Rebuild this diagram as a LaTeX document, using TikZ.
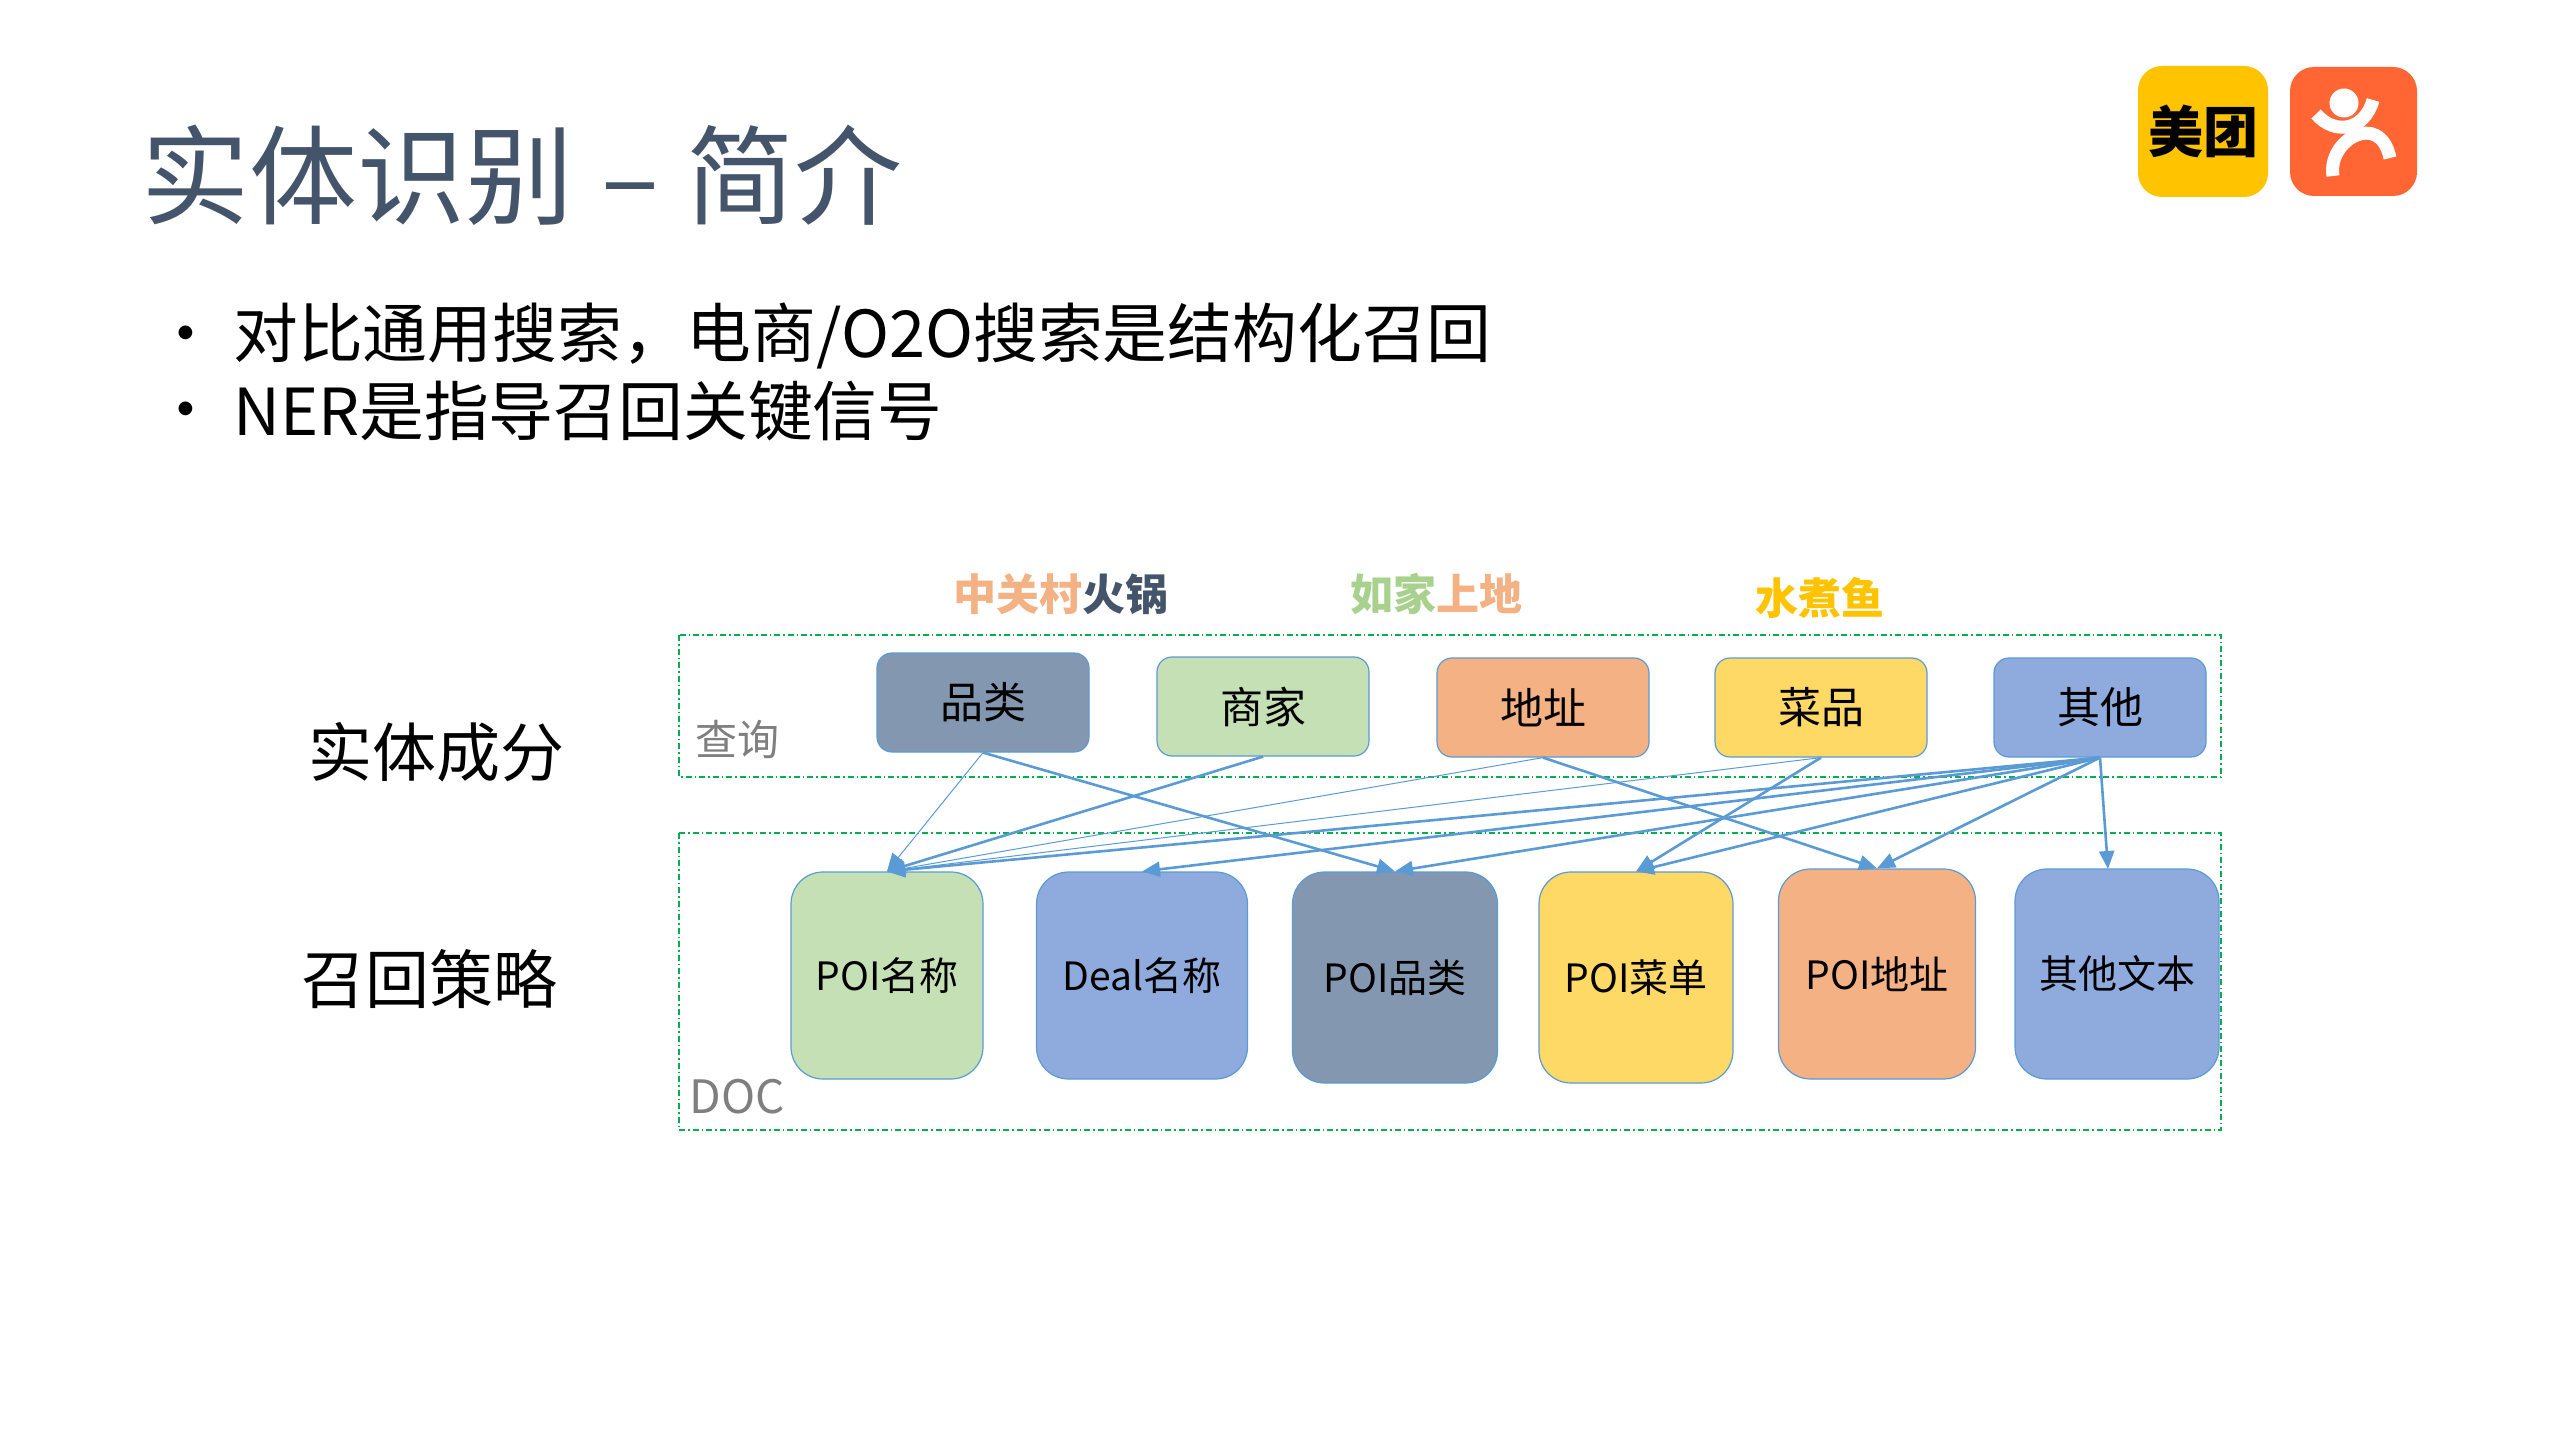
\documentclass[tikz,border=0pt]{standalone}
\usepackage{fontspec}
\setmainfont{Noto Sans CJK SC}
\usetikzlibrary{arrows.meta}
\definecolor{slate}{HTML}{44546A}
\definecolor{cgray}{HTML}{8497B0}
\definecolor{cgreen}{HTML}{C5E0B4}
\definecolor{kgreen}{HTML}{A9D18E}
\definecolor{corange}{HTML}{F4B183}
\definecolor{cyellow}{HTML}{FFD966}
\definecolor{cblue}{HTML}{8FAADC}
\definecolor{edgeblue}{HTML}{5B9BD5}
\definecolor{dashgreen}{HTML}{00B050}
\definecolor{labelgray}{HTML}{7F7F7F}
\definecolor{logoyellow}{HTML}{FFC300}
\definecolor{logoorange}{HTML}{FF6633}
\newcommand{\fsz}[1]{\fontsize{#1}{#1}\selectfont}
\tikzset{
  x=1pt,y=-1pt,
  group/.style={draw=dashgreen,line width=1.5pt,dash pattern=on 6pt off 3pt on 1.5pt off 3pt},
  qbox/.style={draw=edgeblue,line width=1.2pt,rounded corners=15pt,inner sep=0pt,font=\fsz{43},text=black},
  dbox/.style={draw=edgeblue,line width=1.2pt,rounded corners=32pt,inner sep=0pt,font=\fsz{39},text=black},
  thick link/.style={draw=edgeblue,line width=2.6pt,-{Triangle[length=18pt,width=15pt]}},
  thin link/.style={draw=edgeblue,line width=1pt,-{Triangle[length=18pt,width=15pt]}},
  heading/.style={font=\fsz{64},text=black,inner sep=0pt},
  tag/.style={font=\fsz{42},text=labelgray,inner sep=0pt},
  keyword/.style={font=\bfseries\fsz{43},inner sep=0pt},
  bullet/.style={font=\fsz{64.8},anchor=west,inner sep=0pt,text=black},
  figure line/.style={draw=white,line width=13pt},
}
\begin{document}
\begin{tikzpicture}
\useasboundingbox (0,0) rectangle (2559,1439);
% title and bullets
\node[anchor=west,inner sep=0pt,text=slate,font=\fsz{108}] (title) at (141,175) {实体识别\hspace{4pt} – \hspace{3pt}简介};
\node[bullet] (b1) at (153,342) {•};
\node[bullet] (t1) at (233,336) {对比通用搜索，电商/O2O搜索是结构化召回};
\node[bullet] (b2) at (153,418) {•};
\node[bullet] (t2) at (233,411) {NER是指导召回关键信号};
% logos
\node[fill=logoyellow,rounded corners=24pt,minimum width=130pt,minimum height=131pt,inner sep=0pt,font=\bfseries\fsz{55}] (meituan) at (2203,131.5) {美团};
\node[fill=logoorange,rounded corners=24pt,minimum width=127pt,minimum height=129pt,inner sep=0pt] (dianping) at (2353.5,131.5) {};
\fill[white] (2344,103) circle (14.5);
\draw[figure line] (2316,114) .. controls (2335,136) and (2365,130) .. (2373,100);
\draw[figure line] (2333,176) .. controls (2327,140) and (2380,110) .. (2390,158);
% groups
\draw[group] (679,635) rectangle (2221,777);
\draw[group] (679,833) rectangle (2221,1130);
\node[tag] (q) at (737,739) {查询};
\node[tag,font=\fsz{46}] (doc) at (737,1097) {DOC};
% keywords
\node[keyword] (k1) at (1061,594) {\textcolor{corange}{中关村}\textcolor{slate}{火锅}};
\node[keyword] (k2) at (1436,594) {\textcolor{kgreen}{如家}\textcolor{corange}{上地}};
\node[keyword,text=logoyellow] (k3) at (1820,598) {水煮鱼};
% headings
\node[heading] (h1) at (436,752) {实体成分};
\node[heading] (h2) at (429,979) {召回策略};
% query boxes
\node[qbox,fill=cgray,minimum width=212pt,minimum height=99pt] (a1) at (983,702.5) {品类};
\node[qbox,fill=cgreen,minimum width=212pt,minimum height=99pt] (a2) at (1263,706.5) {商家};
\node[qbox,fill=corange,minimum width=212pt,minimum height=99pt] (a3) at (1543,707.5) {地址};
\node[qbox,fill=cyellow,minimum width=212pt,minimum height=99pt] (a4) at (1821,707.5) {菜品};
\node[qbox,fill=cblue,minimum width=212pt,minimum height=99pt] (a5) at (2100,707.5) {其他};
% doc boxes
\node[dbox,fill=cgreen,minimum width=192pt,minimum height=207pt] (d1) at (887,975.5) {POI名称};
\node[dbox,fill=cblue,minimum width=211pt,minimum height=207pt] (d2) at (1142,975.5) {Deal名称};
\node[dbox,fill=cgray,minimum width=205pt,minimum height=211pt] (d3) at (1395,977.5) {POI品类};
\node[dbox,fill=cyellow,minimum width=194pt,minimum height=211pt] (d4) at (1636,977.5) {POI菜单};
\node[dbox,fill=corange,minimum width=197pt,minimum height=210pt] (d5) at (1877,974) {POI地址};
\node[dbox,fill=cblue,minimum width=204pt,minimum height=210pt] (d6) at (2117,974) {其他文本};
\coordinate (d6t) at (2108,869);
% connectors
\draw[thin link] (a1.south) -- (d1.north);
\draw[thick link] (a1.south) -- (d3.north);
\draw[thick link] (a2.south) -- (d1.north);
\draw[thin link] (a3.south) -- (d1.north);
\draw[thick link] (a3.south) -- (d5.north);
\draw[thin link] (a4.south) -- (d1.north);
\draw[thick link] (a4.south) -- (d4.north);
\draw[thick link] (a5.south) -- (d1.north);
\draw[thick link] (a5.south) -- (d2.north);
\draw[thick link] (a5.south) -- (d3.north);
\draw[thick link] (a5.south) -- (d4.north);
\draw[thick link] (a5.south) -- (d5.north);
\draw[thick link] (a5.south) -- (d6t);
\end{tikzpicture}
\end{document}
